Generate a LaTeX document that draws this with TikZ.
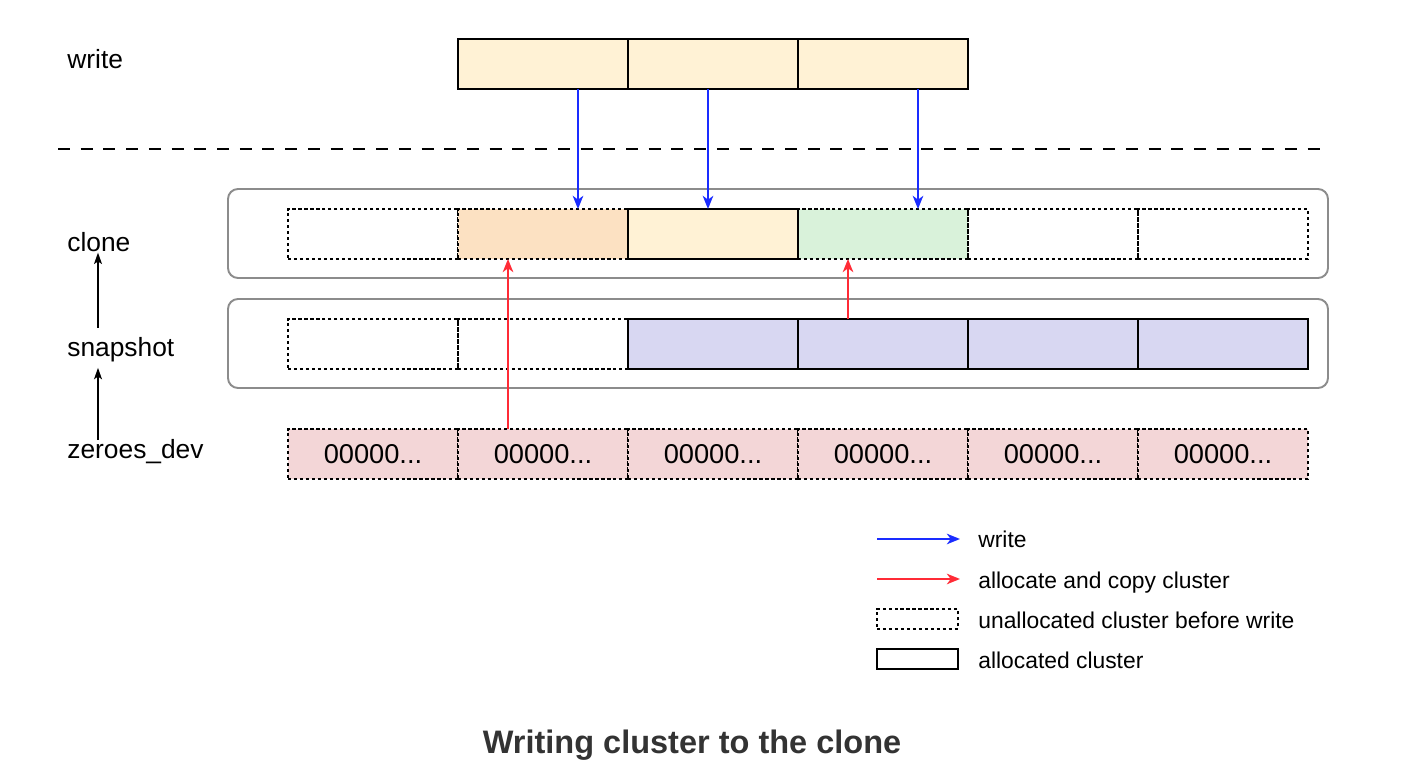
\documentclass[tikz,border=0pt]{standalone}
\usepackage{fontspec}
\setmainfont{Liberation Sans}
\usetikzlibrary{arrows.meta}
\definecolor{wfill}{HTML}{FFF2D5}
\definecolor{ofill}{HTML}{FCE1C2}
\definecolor{gfill}{HTML}{D9F2DA}
\definecolor{pfill}{HTML}{D8D7F2}
\definecolor{zfill}{HTML}{F3D6D7}
\definecolor{wblue}{HTML}{1A2CFF}
\definecolor{cred}{HTML}{FF2B36}
\definecolor{devgray}{HTML}{8C8C8C}
\definecolor{titlegray}{HTML}{333333}
\tikzset{
  cl/.style={minimum width=3.4cm, minimum height=1cm, inner sep=0pt, outer sep=0pt, line width=1.1pt, anchor=north west},
  unalloc/.style={cl, draw=black, dash pattern=on 1.8pt off 1.6pt},
  alloc/.style={cl, draw=black},
  dev/.style={draw=devgray, line width=1.1pt, rounded corners=0.2cm},
  lbl/.style={anchor=base west, inner sep=0pt, font=\fontsize{15}{18}\selectfont},
  leg/.style={anchor=base west, inner sep=0pt, font=\fontsize{13}{16}\selectfont},
  wr/.style={draw=wblue, line width=1.1pt, -{Stealth[length=7.5pt, width=6pt, inset=2.2pt]}},
  cp/.style={draw=cred, line width=1.1pt, -{Stealth[length=7.5pt, width=6pt, inset=2.2pt]}},
  up/.style={draw=black, line width=0.9pt, -{Stealth[length=6.5pt, width=4.5pt, inset=1.5pt]}},
}
\begin{document}
\begin{tikzpicture}[x=0.02cm, y=-0.02cm]
  % one unit is one pixel, y runs down
  \useasboundingbox (0,0) rectangle (1404,780);
  % labels on the left
  \node[lbl] (write) at (67,69) {write};
  \node[lbl] (clone) at (67,252) {clone};
  \node[lbl] (snapshot) at (67,357) {snapshot};
  \node[lbl] (zeroes) at (67,459) {zeroes\_dev};
  \draw[up, shorten <=0.2cm] (snapshot.north -| 98,0) -- (clone.south -| 98,0);
  \draw[up, shorten >=0.1cm] (zeroes.north -| 98,0) -- (snapshot.south -| 98,0);
  % write
  \node[alloc, fill=wfill] (w1) at (458,39) {};
  \node[alloc, fill=wfill] (w2) at (628,39) {};
  \node[alloc, fill=wfill] (w3) at (798,39) {};
  \draw[line width=1.1pt, dash pattern=on 0.24cm off 0.2145cm] (58,149) -- (1320,149);
  % clone
  \draw[dev] (228,189) rectangle (1328,278);
  \node[unalloc] (c1) at (288,209) {};
  \node[unalloc, fill=ofill] (c2) at (458,209) {};
  \node[unalloc, fill=gfill] (c4) at (798,209) {};
  \node[unalloc] (c5) at (968,209) {};
  \node[unalloc] (c6) at (1138,209) {};
  \node[alloc, fill=wfill] (c3) at (628,209) {};
  % snapshot
  \draw[dev] (228,299) rectangle (1328,388);
  \node[unalloc] (s1) at (288,319) {};
  \node[unalloc] (s2) at (458,319) {};
  \node[alloc, fill=pfill] (s3) at (628,319) {};
  \node[alloc, fill=pfill] (s4) at (798,319) {};
  \node[alloc, fill=pfill] (s5) at (968,319) {};
  \node[alloc, fill=pfill] (s6) at (1138,319) {};
  % zeroes_dev
  \node[unalloc, fill=zfill, font=\fontsize{15.5}{18}\selectfont] (z1) at (288,429) {00000...};
  \node[unalloc, fill=zfill, font=\fontsize{15.5}{18}\selectfont] (z2) at (458,429) {00000...};
  \node[unalloc, fill=zfill, font=\fontsize{15.5}{18}\selectfont] (z3) at (628,429) {00000...};
  \node[unalloc, fill=zfill, font=\fontsize{15.5}{18}\selectfont] (z4) at (798,429) {00000...};
  \node[unalloc, fill=zfill, font=\fontsize{15.5}{18}\selectfont] (z5) at (968,429) {00000...};
  \node[unalloc, fill=zfill, font=\fontsize{15.5}{18}\selectfont] (z6) at (1138,429) {00000...};
  % arrows
  \draw[wr] (w1.south -| 578,0) -- (c2.north -| 578,0);
  \draw[wr] (w2.south -| 708,0) -- (c3.north -| 708,0);
  \draw[wr] (w3.south -| 918,0) -- (c4.north -| 918,0);
  \draw[cp] (z2.north -| 508,0) -- (c2.south -| 508,0);
  \draw[cp] (s4.north -| 848,0) -- (c4.south -| 848,0);
  % legend
  \coordinate (lw0) at (877,539);
  \coordinate (lw1) at (960,539);
  \coordinate (lc0) at (877,579);
  \coordinate (lc1) at (960,579);
  \draw[wr] (lw0) -- (lw1);
  \draw[cp] (lc0) -- (lc1);
  \node[unalloc, minimum width=1.62cm, minimum height=0.4cm] (lu) at (877,609) {};
  \node[alloc, minimum width=1.62cm, minimum height=0.4cm] (la) at (877,649) {};
  \node[leg] (tw) at (978,548) {write};
  \node[leg] (tc) at (978,588) {allocate and copy cluster};
  \node[leg] (tu) at (978,628) {unallocated cluster before write};
  \node[leg] (ta) at (978,668) {allocated cluster};
  % title
  \node[anchor=base, inner sep=0pt, text=titlegray, font=\bfseries\fontsize{18.5}{22}\selectfont] (title) at (692,753) {Writing cluster to the clone};
\end{tikzpicture}
\end{document}
